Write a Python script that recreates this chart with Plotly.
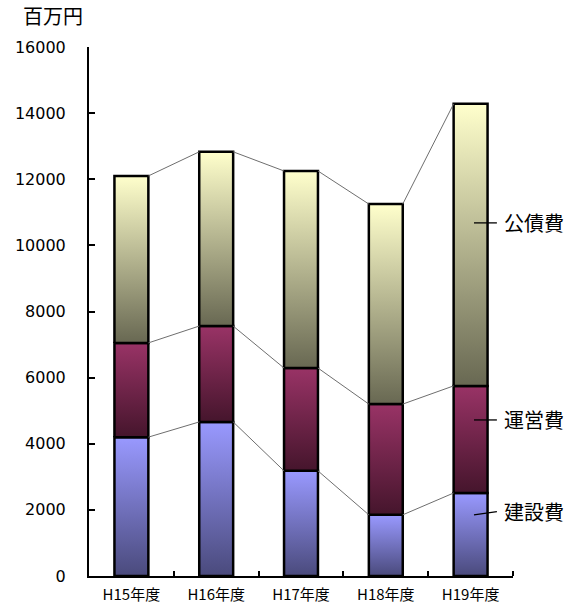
import plotly.graph_objects as go

categories = ["H15年度", "H16年度", "H17年度", "H18年度", "H19年度"]
series_names = ["建設費", "運営費", "公債費"]
construction = [4200, 4660, 3180, 1850, 2510]
operation = [2850, 2900, 3110, 3350, 3240]
bond = [5050, 5270, 5960, 6050, 8530]
y_ticks = [0, 2000, 4000, 6000, 8000, 10000, 12000, 14000, 16000]
label_y = [1950, 4720, 10680]

grad_top = ["#9999FF", "#993366", "#FFFFCC"]
grad_bottom = ["#4A4A7C", "#45152C", "#686852"]

series = [construction, operation, bond]
hw = 0.2

fig = go.Figure()
bases = [0] * len(categories)
tops_all = []
for s, vals in enumerate(series):
    tops = []
    for i, v in enumerate(vals):
        b = bases[i]
        t = b + v
        tops.append(t)
        fig.add_trace(go.Scatter(
            x=[i - hw, i + hw, i + hw, i - hw, i - hw],
            y=[b, b, t, t, b],
            mode="lines", fill="toself",
            fillgradient=dict(type="vertical",
                              colorscale=[[0, grad_bottom[s]], [1, grad_top[s]]]),
            line=dict(color="black", width=2.5),
            showlegend=False, hoverinfo="skip"))
    bases = tops
    tops_all.append(tops)

# series lines
for s in range(len(series)):
    tops = tops_all[s]
    for i in range(len(categories) - 1):
        fig.add_trace(go.Scatter(
            x=[i + hw, i + 1 - hw], y=[tops[i], tops[i + 1]],
            mode="lines", line=dict(color="#6E6E6E", width=1),
            showlegend=False, hoverinfo="skip"))

# series labels with leader lines
last = len(categories) - 1
leader_start = [1850, 4720, 10680]
for s, name in enumerate(series_names):
    fig.add_shape(type="line", x0=last + 0.04, x1=last + 0.31,
                  y0=leader_start[s], y1=label_y[s],
                  line=dict(color="black", width=1.3))
    fig.add_annotation(x=last + 0.37, y=label_y[s], text=name, showarrow=False,
                       xanchor="left", yanchor="middle",
                       font=dict(size=20, color="black",
                                 family="Noto Sans CJK JP"))

fig.add_annotation(x=-0.01, y=1.0, xref="paper", yref="paper", text="百万円",
                   showarrow=False, xanchor="right", yanchor="bottom", yshift=15,
                   font=dict(size=20, color="black", family="Noto Sans CJK JP"))

fig.update_layout(
    width=581, height=606,
    margin=dict(l=89, r=68, t=47, b=30),
    plot_bgcolor="white", paper_bgcolor="white",
    font=dict(family="Noto Sans CJK JP", color="black"),
    xaxis=dict(range=[-0.5, 4.5], tickmode="array", automargin=False,
               tickvals=list(range(len(categories))), ticktext=categories,
               ticks="", showgrid=False, zeroline=False,
               showline=True, linecolor="black", linewidth=2,
               tickfont=dict(size=15), ticklabelstandoff=4,
               minor=dict(tickmode="array",
                          tickvals=[k + 0.5 for k in range(len(categories))],
                          ticks="inside", ticklen=5, tickwidth=2,
                          tickcolor="black", showgrid=False)),
    yaxis=dict(range=[0, 16000], tickmode="array", tickvals=y_ticks,
               ticktext=[str(v) for v in y_ticks], automargin=False,
               ticks="inside", ticklen=6, tickwidth=2, tickcolor="black",
               showgrid=False, zeroline=False,
               showline=True, linecolor="black", linewidth=2,
               ticklabelstandoff=18, tickfont=dict(size=16, family="DejaVu Sans")),
)

fig.write_html("out.html")
